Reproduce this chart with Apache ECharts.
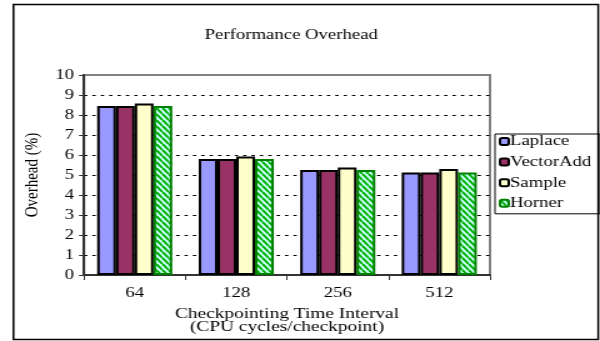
<!DOCTYPE html>
<html>
<head>
<meta charset="utf-8">
<script src="https://cdn.jsdelivr.net/npm/echarts@6/dist/echarts.min.js"></script>
<style>
  html, body { margin: 0; padding: 0; background: #fff; overflow: hidden; }
  /* the original figure is stretched sideways, so draw narrow and widen */
  #chart { width: 480px; height: 341px; transform: scaleX(1.25); transform-origin: 0 0; }
</style>
</head>
<body>
<div id="chart"></div>
<script>
// data
const intervals = ['64', '128', '256', '512']
const laplace = [8.45, 5.8, 5.25, 5.13]
const vectorAdd = [8.45, 5.8, 5.25, 5.13]
const sample = [8.58, 5.92, 5.38, 5.3]
const horner = [8.45, 5.8, 5.25, 5.13]
const yTicks = [0, 1, 2, 3, 4, 5, 6, 7, 8, 9, 10]

const serif = 'Liberation Serif, Times New Roman, serif'

// striped fill for Horner
function stripes() {
  const c = document.createElement('canvas')
  c.width = 5
  c.height = 6
  const ctx = c.getContext('2d')
  ctx.fillStyle = '#ccffff'
  ctx.fillRect(0, 0, 5, 6)
  ctx.strokeStyle = '#00b000'
  ctx.lineWidth = 2
  for (let k = -5; k <= 10; k += 5) {
    ctx.beginPath()
    ctx.moveTo(k, 0)
    ctx.lineTo(k + 5, 6)
    ctx.stroke()
  }
  return c
}

function bar(name, data, fill, border) {
  return {
    name: name,
    type: 'bar',
    data: data,
    barGap: 0,
    barCategoryGap: '26%',
    itemStyle: { color: fill, borderColor: border, borderWidth: 2 }
  }
}

const chart = echarts.init(document.getElementById('chart'))
chart.setOption({
  animation: false,
  textStyle: { fontFamily: serif, color: '#000' },
  title: {
    text: 'Performance Overhead',
    left: 228,
    top: 23,
    textAlign: 'center',
    textStyle: { fontFamily: serif, fontSize: 15, fontWeight: 'normal', color: '#000' }
  },
  legend: {
    orient: 'vertical',
    left: 396,
    top: 134,
    itemWidth: 7,
    itemHeight: 7,
    itemGap: 5.6,
    padding: [0, 7, 3, 3],
    borderColor: '#000',
    borderWidth: 1,
    textStyle: { fontFamily: serif, fontSize: 15, color: '#000', padding: [0, 0, 0, -4] },
    data: ['Laplace', 'VectorAdd', 'Sample', 'Horner']
  },
  grid: {
    left: 67.2, right: 88, top: 75, bottom: 66,
    show: true,
    borderColor: '#808080',
    borderWidth: 2
  },
  xAxis: {
    type: 'category',
    data: intervals,
    name: 'Checkpointing Time Interval\n(CPU cycles/checkpoint)',
    nameLocation: 'middle',
    nameGap: 33,
    nameTextStyle: { fontFamily: serif, fontSize: 15.5, lineHeight: 12.5, color: '#000' },
    axisLine: { lineStyle: { color: '#333', width: 2 } },
    axisTick: { show: true, alignWithLabel: false, length: 5, lineStyle: { color: '#333' } },
    axisLabel: { fontFamily: serif, fontSize: 15, color: '#000', margin: 11 }
  },
  yAxis: {
    type: 'value',
    min: yTicks[0],
    max: yTicks[yTicks.length - 1],
    interval: 1,
    name: 'Overhead (%)',
    nameLocation: 'middle',
    nameGap: 33,
    nameTextStyle: { fontFamily: serif, fontSize: 15, color: '#000' },
    axisLine: { show: true, lineStyle: { color: '#333', width: 2 } },
    axisTick: { show: true, length: 4, lineStyle: { color: '#333' } },
    axisLabel: { fontFamily: serif, fontSize: 15, color: '#000', margin: 8 },
    splitLine: { show: true, showMaxLine: false, lineStyle: { color: '#000', type: [2.7, 4], width: 1 } }
  },
  graphic: [{
    type: 'rect',
    shape: { x: 10.8, y: 4.5, width: 467.8, height: 335 },
    style: { fill: 'none', stroke: '#000', lineWidth: 1.5 },
    silent: true
  }],
  series: [
    bar('Laplace', laplace, '#9999ff', '#000'),
    bar('VectorAdd', vectorAdd, '#993366', '#000'),
    bar('Sample', sample, '#ffffcc', '#000'),
    bar('Horner', horner, { image: stripes(), repeat: 'repeat' }, '#008000')
  ]
})
</script>
</body>
</html>
